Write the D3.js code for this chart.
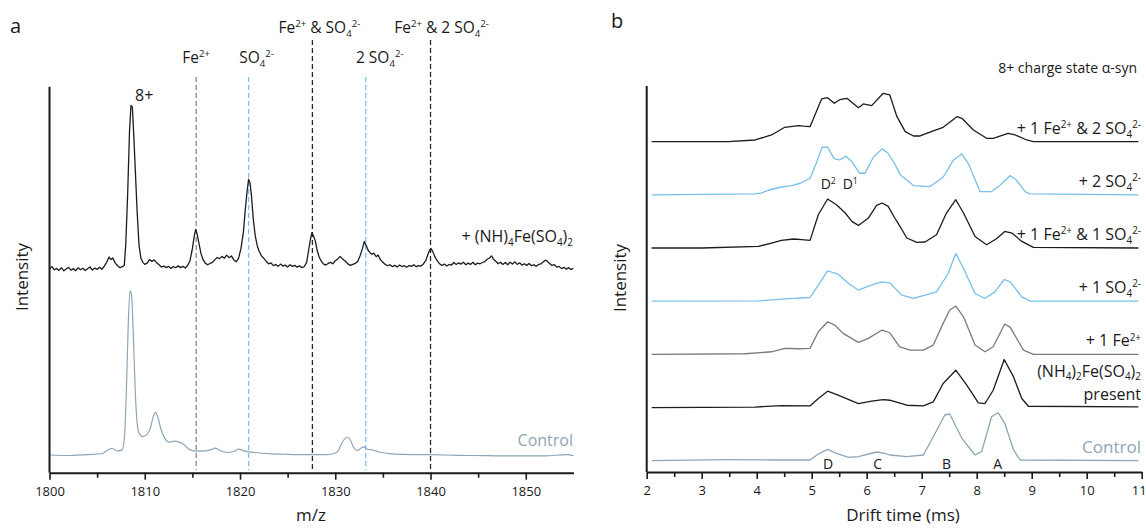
<!DOCTYPE html>
<html>
<head>
<meta charset="utf-8">
<script src="https://cdn.jsdelivr.net/npm/d3@7"></script>
<style>
    body {margin: 0; background: #fff;}
    svg text {font-family: "Open Sans", sans-serif; fill: #1a1a1a;}
</style>
</head>
<body>
<div id="Graph"></div>
<script>
// ---------- panel a : mass spectra ----------
var mzTicks = [1800, 1810, 1820, 1830, 1840, 1850];
var mzMinorTicks = [1805, 1815, 1825, 1835, 1845];

// adduct positions (m/z) and their labels
var adductMz = [1815.4, 1820.9, 1827.6, 1833.2, 1840.0];
var adductLabels = [
    [["Fe", ""], ["2+", "sup"]],
    [["SO", ""], ["4", "sub"], ["2-", "sup"]],
    [["Fe", ""], ["2+", "sup"], [" & SO", ""], ["4", "sub"], ["2-", "sup"]],
    [["2 SO", ""], ["4", "sub"], ["2-", "sup"]],
    [["Fe", ""], ["2+", "sup"], [" & 2 SO", ""], ["4", "sub"], ["2-", "sup"]]
];
var adductKinds = ["fe", "so4", "mix", "so4", "mix"];

// spectrum with (NH4)2Fe(SO4)2 added : [m/z, relative intensity]
var spectrumFe = [
    [1800, -0.5], [1800.25, 0.8], [1800.5, -1.2], [1800.75, -0.3], [1801, -1.5], [1801.25, 0.2], [1801.5, -1.8], [1801.75, -0.6],
    [1802, 0.4], [1802.25, -1.4], [1802.5, -0.4], [1802.75, -1.7], [1803, 0.1], [1803.25, -1.1], [1803.5, -0.2], [1803.75, -1.6],
    [1804, -0.5], [1804.25, 0.6], [1804.5, -1.3], [1804.75, -0.1], [1805, -0.9], [1805.25, 0.5], [1805.5, -0.8], [1805.75, 1.2],
    [1806, 3.5], [1806.25, 6.8], [1806.45, 5.2], [1806.65, 6.2], [1806.9, 3.0], [1807.15, 1.4], [1807.4, 0.2], [1807.65, 0.8],
    [1807.85, 1.5], [1808.0, 14], [1808.2, 45], [1808.4, 85], [1808.55, 101], [1808.7, 100], [1808.85, 82], [1809.0, 62],
    [1809.2, 35], [1809.4, 14], [1809.6, 6], [1809.8, 3.5], [1810.0, 2.2], [1810.25, 3.0], [1810.5, 5.2], [1810.75, 4.1],
    [1811.0, 5.0], [1811.25, 3.2], [1811.5, 2.0], [1811.75, 0.6], [1812, 1.2], [1812.25, 0.2], [1812.5, 1.0], [1812.75, -0.3],
    [1813, 0.9], [1813.25, 0.1], [1813.5, 1.3], [1813.75, 0.2], [1814, 1.0], [1814.25, 0.0], [1814.5, 1.5], [1814.75, 4.5],
    [1815.0, 12], [1815.2, 20], [1815.35, 24], [1815.5, 21], [1815.7, 15], [1815.9, 9], [1816.1, 5.5], [1816.35, 3.0],
    [1816.6, 2.0], [1816.85, 2.8], [1817.1, 3.5], [1817.35, 5.0], [1817.6, 6.5], [1817.85, 5.8], [1818.1, 7.2], [1818.35, 6.0],
    [1818.6, 8.0], [1818.85, 6.4], [1819.1, 7.5], [1819.35, 5.0], [1819.6, 3.8], [1819.85, 6.0], [1820.1, 12], [1820.35, 22],
    [1820.55, 36], [1820.75, 48], [1820.9, 55], [1821.05, 53], [1821.2, 45], [1821.4, 30], [1821.6, 20], [1821.8, 14],
    [1822.0, 10.5], [1822.25, 7.5], [1822.5, 6.0], [1822.75, 4.2], [1823.0, 2.5], [1823.25, 3.2], [1823.5, 1.4], [1823.75, 2.2],
    [1824.0, 1.0], [1824.25, 2.4], [1824.5, 1.2], [1824.75, 1.8], [1825, 0.6], [1825.25, 2.0], [1825.5, 1.0], [1825.75, 1.6],
    [1826, 0.5], [1826.25, 1.4], [1826.5, 0.2], [1826.75, 0.9], [1827.0, 3.5], [1827.2, 11], [1827.4, 18], [1827.55, 22],
    [1827.7, 20], [1827.9, 17], [1828.1, 11], [1828.3, 7], [1828.5, 4.5], [1828.75, 2.5], [1829.0, 1.8], [1829.25, 2.8],
    [1829.5, 3.5], [1829.75, 2.6], [1830.0, 4.5], [1830.25, 5.5], [1830.5, 7.2], [1830.7, 6.0], [1830.9, 5.0], [1831.1, 4.0],
    [1831.35, 2.4], [1831.6, 1.6], [1831.85, 2.2], [1832.1, 2.8], [1832.35, 4.0], [1832.6, 7.5], [1832.85, 12], [1833.05, 16.5],
    [1833.25, 14], [1833.45, 11], [1833.65, 9.5], [1833.85, 8.5], [1834.05, 9.2], [1834.3, 7.0], [1834.5, 8.0], [1834.75, 5.0],
    [1835.0, 3.5], [1835.25, 2.2], [1835.5, 1.4], [1835.75, 2.0], [1836, 0.8], [1836.25, 1.6], [1836.5, 0.6], [1836.75, 1.8],
    [1837, 0.9], [1837.25, 1.4], [1837.5, 0.4], [1837.75, 1.5], [1838, 1.0], [1838.25, 2.0], [1838.5, 0.8], [1838.75, 1.5],
    [1839, 1.2], [1839.25, 2.5], [1839.5, 4.5], [1839.7, 8.0], [1839.9, 11], [1840.05, 12], [1840.25, 10], [1840.45, 7.0],
    [1840.7, 4.5], [1840.95, 2.6], [1841.2, 1.5], [1841.45, 2.4], [1841.7, 1.2], [1841.95, 2.2], [1842.2, 1.8], [1842.45, 3.4],
    [1842.7, 2.2], [1842.95, 3.2], [1843.2, 2.4], [1843.45, 3.6], [1843.7, 2.0], [1843.95, 3.0], [1844.2, 2.2], [1844.45, 3.5],
    [1844.7, 2.0], [1844.95, 3.0], [1845.2, 2.6], [1845.45, 3.4], [1845.7, 4.0], [1845.95, 5.4], [1846.2, 6.2], [1846.4, 7.5],
    [1846.6, 5.6], [1846.85, 4.2], [1847.1, 2.6], [1847.35, 3.6], [1847.6, 2.2], [1847.85, 3.4], [1848.1, 2.0], [1848.35, 3.6],
    [1848.6, 2.4], [1848.85, 3.8], [1849.1, 2.2], [1849.35, 3.2], [1849.6, 1.8], [1849.85, 2.6], [1850.1, 1.6], [1850.35, 2.8],
    [1850.6, 1.4], [1850.85, 2.0], [1851.1, 1.0], [1851.35, 2.2], [1851.6, 2.6], [1851.85, 3.8], [1852.05, 4.8], [1852.25, 4.2],
    [1852.5, 2.8], [1852.75, 1.6], [1853, 2.0], [1853.25, 0.5], [1853.5, 1.0], [1853.75, -0.4], [1854, 0.4], [1854.25, -0.8],
    [1854.5, 0.2], [1854.75, -1.0], [1855, -0.2]
];

// control spectrum : [m/z, relative intensity]
var spectrumControl = [
    [1800, 0], [1802, -0.3], [1804, 0.3], [1805.5, 0.8], [1806.2, 3.4], [1806.6, 4.2], [1807.1, 2.5], [1807.6, 3.0],
    [1807.85, 10], [1808.05, 36], [1808.25, 78], [1808.45, 102], [1808.6, 100], [1808.8, 75], [1809.0, 40], [1809.2, 20],
    [1809.45, 13], [1809.8, 11.5], [1810.2, 12.5], [1810.6, 17], [1810.9, 24], [1811.15, 26.5], [1811.4, 23], [1811.7, 16],
    [1812.1, 10.5], [1812.6, 8], [1813.1, 8.6], [1813.6, 8], [1814.1, 6.5], [1814.6, 3.8], [1815.2, 2.6], [1816.0, 2.4],
    [1816.8, 3.0], [1817.4, 4.3], [1817.9, 2.8], [1818.6, 1.6], [1819.3, 2.2], [1819.9, 3.6], [1820.4, 2.6], [1821.0, 2.0],
    [1821.8, 1.4], [1823, 0.8], [1825, 0.4], [1827, 0.2], [1829, 0.2], [1829.8, 0.8], [1830.3, 2.6], [1830.7, 7.5],
    [1831.0, 10], [1831.3, 11.2], [1831.6, 9], [1831.95, 4.5], [1832.3, 2.8], [1832.7, 4.2], [1833.0, 5.0], [1833.4, 3.6],
    [1833.9, 3.2], [1834.5, 2.0], [1835.5, 1.0], [1837, 0.4], [1840, 0.2], [1843, -0.2], [1846, -0.4], [1849, -0.6],
    [1852, -0.5], [1854.3, 0.2], [1855, -0.4]
];

// ---------- panel b : arrival time distributions ----------
var driftTicks = [2, 3, 4, 5, 6, 7, 8, 9, 10, 11];
var driftMinorTicks = [2.5, 3.5, 4.5, 5.5, 6.5, 7.5, 8.5, 9.5, 10.5];

// traces from bottom (control) to top, [drift time ms, relative intensity]
var atdControl = [[2.09, 0], [3.48, 1], [4.39, 0.7], [4.97, 0.7], [5.12, 6.7], [5.29, 11.4], [5.45, 7.4], [5.67, 3.4], [5.85, 4],
    [6.18, 8.7], [6.33, 7.4], [6.42, 5.7], [6.73, 4], [7.03, 5.7], [7.21, 24], [7.42, 45.7], [7.51, 46.7], [7.73, 22.4],
    [7.97, 5.7], [8.09, 9], [8.27, 44], [8.39, 48], [8.51, 37.4], [8.67, 10.7], [8.79, 0.7], [10.94, 0]];
var atdPresent = [[2.09, 0], [3.97, 0.5], [4.45, 2], [4.97, 1.6], [5.12, 9], [5.29, 16.3], [5.48, 12.3], [5.85, 4], [6.09, 6.3],
    [6.30, 8], [6.42, 7.3], [6.73, 2.3], [7.03, 1.6], [7.21, 5.6], [7.39, 24], [7.62, 37.3], [7.82, 22.3], [8.03, 4.6],
    [8.15, 4], [8.30, 17.3], [8.50, 48], [8.67, 30.6], [8.82, 9], [8.94, 1.3], [10.94, 0.6]];
var atdFe = [[2.09, 0], [3.79, 0.6], [4.27, 2.6], [4.51, 6], [4.76, 5.6], [4.97, 6], [5.12, 22.6], [5.29, 32.6], [5.42, 29.3],
    [5.57, 21], [5.85, 12], [6.03, 16], [6.28, 24.3], [6.42, 21.6], [6.60, 7.6], [6.79, 4.3], [7.03, 4.3], [7.21, 9.3],
    [7.39, 31], [7.51, 44.3], [7.62, 48.3], [7.76, 37.6], [7.97, 9.3], [8.15, 2.6], [8.30, 7.6], [8.51, 30.3], [8.61, 27],
    [8.85, 4.3], [9.03, 0], [10.94, 0]];
var atdSO4 = [[2.09, 0], [4.03, 0.3], [4.51, 2.3], [4.97, 3.7], [5.12, 16], [5.29, 30.3], [5.48, 27], [5.67, 17.7], [5.85, 11],
    [6.03, 15], [6.27, 19.3], [6.42, 18.3], [6.64, 6], [6.85, 2.7], [7.27, 9.3], [7.48, 27.7], [7.62, 47.7], [7.76, 32.7],
    [7.97, 7.7], [8.15, 2.7], [8.33, 9.3], [8.50, 21.7], [8.61, 19.3], [8.82, 4.3], [8.97, 0], [10.94, 0]];
var atdFeSO4 = [[2.09, 0], [3.0, 0], [4.03, 1.6], [4.27, 5], [4.45, 7.6], [4.67, 9], [4.82, 8.3], [4.97, 7.6], [5.12, 33.3],
    [5.29, 49], [5.45, 43.3], [5.61, 35], [5.73, 26.6], [5.85, 22.6], [6.03, 30], [6.18, 42.6], [6.28, 45], [6.39, 41.6],
    [6.51, 30], [6.55, 26.6], [6.73, 10], [6.91, 5.6], [7.06, 6], [7.27, 13.3], [7.45, 35], [7.62, 48.3], [7.76, 35],
    [7.97, 11.6], [8.18, 3.3], [8.36, 9.3], [8.51, 16.6], [8.64, 15], [8.82, 6.6], [9.03, 0.6], [10.94, 0]];
var atd2SO4 = [[2.09, 0], [3.97, 1], [4.09, 2], [4.21, 4.6], [4.42, 7.6], [4.64, 9.3], [4.79, 11.6], [4.97, 16.6], [5.09, 32.6],
    [5.19, 47.6], [5.29, 47.6], [5.41, 36], [5.51, 35], [5.62, 38.6], [5.73, 33.3], [5.87, 21.6], [5.97, 21.6], [6.12, 37.6],
    [6.28, 46], [6.39, 41.6], [6.51, 31], [6.61, 20], [6.85, 9.3], [7.15, 8.3], [7.39, 17.6], [7.57, 34.3], [7.73, 41],
    [7.85, 31], [8.06, 3.3], [8.27, 3.3], [8.42, 9.3], [8.61, 19.3], [8.73, 14.3], [8.88, 3.3], [8.97, 1], [10.94, 0]];
var atdFe2SO4 = [[2.09, 0], [3.48, 0], [3.97, 1.7], [4.27, 6.7], [4.51, 14.4], [4.76, 16], [4.85, 15.5], [4.97, 15], [5.18, 42.7],
    [5.29, 44], [5.41, 38.4], [5.51, 42], [5.64, 43.4], [5.85, 34], [5.94, 37.7], [6.09, 36], [6.30, 48.4], [6.42, 46.7],
    [6.55, 25], [6.70, 10], [6.85, 5.7], [6.97, 5.7], [7.21, 10.7], [7.39, 14.4], [7.64, 25], [7.73, 23.4], [7.94, 11.7],
    [8.18, 3.4], [8.30, 3.4], [8.57, 8.4], [8.70, 6.7], [8.91, 1.7], [9.03, 0], [10.94, 0]];

var atdSeries = [atdControl, atdPresent, atdFe, atdSO4, atdFeSO4, atd2SO4, atdFe2SO4];
var atdKinds = ["control", "black", "gray", "blue", "black", "blue", "black"];
var atdLabels = [
    [[["Control", ""]]],
    [[["(NH", ""], ["4", "sub"], [")", ""], ["2", "sub"], ["Fe(SO", ""], ["4", "sub"], [")", ""], ["2", "sub"]], [["present", ""]]],
    [[["+ 1 Fe", ""], ["2+", "sup"]]],
    [[["+ 1 SO", ""], ["4", "sub"], ["2-", "sup"]]],
    [[["+ 1 Fe", ""], ["2+", "sup"], [" & 1 SO", ""], ["4", "sub"], ["2-", "sup"]]],
    [[["+ 2 SO", ""], ["4", "sub"], ["2-", "sup"]]],
    [[["+ 1 Fe", ""], ["2+", "sup"], [" & 2 SO", ""], ["4", "sub"], ["2-", "sup"]]]
];
// conformer families under the control trace
var conformerNames = ["D", "C", "B", "A"];
var conformerTimes = [5.3, 6.2, 7.45, 8.38];
var subConformers = [[["D", ""], ["2", "sup"]], [["D", ""], ["1", "sup"]]];
var subConformerTimes = [5.3, 5.7];

var colors = {
    black: "#1c1c1c",
    blue: "#79bfea",
    gray: "#7b7b7b",
    control: "#8ea5b6",
    fe: "#8a8a8a",
    so4: "#79bfea",
    mix: "#2a2a2a"
};

// write a label made of normal / sub / sup pieces into a text element
function richText(sel, parts, size) {
    var shift = 0;
    parts.forEach(function (p) {
        var target = p[1] === "sup" ? -0.36 * size : (p[1] === "sub" ? 0.24 * size : 0);
        sel.append("tspan")
            .attr("dy", target - shift)
            .style("font-size", (p[1] ? size * 0.62 : size) + "px")
            .text(p[0]);
        shift = target;
    });
    return sel;
}

function drawAxis(g, scale, major, minor, y) {
    g.append("g")
        .attr("transform", "translate(0," + y + ")")
        .call(d3.axisBottom(scale).tickValues(minor).tickSize(5).tickSizeOuter(0).tickFormat(""))
        .call(function (a) {
            a.select(".domain").remove();
            a.selectAll("line").attr("stroke", "#1a1a1a").attr("stroke-width", 1.6);
        });
    g.append("g")
        .attr("transform", "translate(0," + y + ")")
        .call(d3.axisBottom(scale).tickValues(major).tickSize(7).tickSizeOuter(0).tickPadding(7).tickFormat(d3.format("d")))
        .call(function (a) {
            a.select(".domain").attr("stroke", "#1a1a1a").attr("stroke-width", 2);
            a.selectAll("line").attr("stroke", "#1a1a1a").attr("stroke-width", 1.6);
            a.selectAll("text").attr("font-family", "Open Sans").style("font-size", "13px").attr("fill", "#1a1a1a");
        });
}

var svg = d3.select("#Graph").append("svg")
    .attr("width", 1146)
    .attr("height", 528);

function drawPanelA() {
    var axisY = 472.7, topY = 86.7;
    var xA = d3.scaleLinear().domain([1800, 1855]).range([49.5, 573.4]);
    var yA = d3.scaleLinear().domain([0, 240]).range([axisY, topY]);
    var offsets = [11, 127.3];   // control, Fe added

    var g = svg.append("g");

    //panel letter
    g.append("text").attr("x", 10).attr("y", 33).style("font-size", "20px").text("a");

    //dashed adduct lines and labels
    adductMz.forEach(function (mz, i) {
        var upper = adductKinds[i] === "mix";
        var lx = xA(mz);
        g.append("line")
            .attr("x1", lx).attr("x2", lx)
            .attr("y1", upper ? 40 : 77).attr("y2", 470)
            .attr("stroke", colors[adductKinds[i]])
            .attr("stroke-width", 1.3)
            .attr("stroke-dasharray", "5,3");
        var shiftX = [0, 8, 7, 14, 11][i];
        richText(g.append("text")
            .attr("x", lx + shiftX)
            .attr("y", upper ? 33 : 63)
            .attr("text-anchor", "middle"), adductLabels[i], 15.5);
    });

    var line = d3.line().x(function (d) { return xA(d[0]); });

    //control spectrum
    g.append("path")
        .datum(spectrumControl)
        .attr("fill", "none")
        .attr("stroke", colors.control)
        .attr("stroke-width", 1.2)
        .attr("d", line.curve(d3.curveMonotoneX).y(function (d) { return yA(d[1] + offsets[0]); }));

    //spectrum with (NH4)2Fe(SO4)2
    g.append("path")
        .datum(spectrumFe)
        .attr("fill", "none")
        .attr("stroke", colors.black)
        .attr("stroke-width", 1.3)
        .attr("stroke-linejoin", "round")
        .attr("d", line.curve(d3.curveLinear).y(function (d) { return yA(d[1] + offsets[1]); }));

    //labels on spectra
    g.append("text").attr("x", 135).attr("y", 101).style("font-size", "16px").text("8+");
    richText(g.append("text").attr("x", 573).attr("y", 242).attr("text-anchor", "end"),
        [["+ (NH)", ""], ["4", "sub"], ["Fe(SO", ""], ["4", "sub"], [")", ""], ["2", "sub"]], 16);
    g.append("text").attr("x", 573).attr("y", 446).attr("text-anchor", "end")
        .style("font-size", "16px").style("fill", colors.control).text("Control");

    //axes
    g.append("line").attr("x1", xA(1800)).attr("x2", xA(1800)).attr("y1", topY).attr("y2", axisY)
        .attr("stroke", "#1a1a1a").attr("stroke-width", 2);
    drawAxis(g, xA, mzTicks, mzMinorTicks, axisY);

    g.append("text").attr("x", 311).attr("y", 521).attr("text-anchor", "middle")
        .style("font-size", "17px").text("m/z");
    g.append("text").attr("transform", "translate(28,277) rotate(-90)").attr("text-anchor", "middle")
        .style("font-size", "17px").text("Intensity");
}

function drawPanelB() {
    var axisY = 472, topY = 86;
    var xB = d3.scaleLinear().domain([2, 11]).range([646.7, 1141.7]);
    var yB = d3.scaleLinear().domain([0, 386]).range([axisY, topY]);
    var stackStart = 11.3, stackStep = 53.17;

    var g = svg.append("g");
    g.append("text").attr("x", 611).attr("y", 28).style("font-size", "20px").text("b");
    g.append("text").attr("x", 1137).attr("y", 73).attr("text-anchor", "end")
        .style("font-size", "14px").text("8+ charge state \u03b1-syn");

    var line = d3.line()
        .x(function (d) { return xB(d[0]); })
        .curve(d3.curveLinear);

    atdSeries.forEach(function (series, i) {
        var base = stackStart + i * stackStep;
        g.append("path")
            .datum(series)
            .attr("fill", "none")
            .attr("stroke", colors[atdKinds[i]])
            .attr("stroke-width", 1.3)
            .attr("stroke-linejoin", "round")
            .attr("d", line.y(function (d) { return yB(d[1] + base); }));

        //trace label, right aligned above the trace end
        var lines = atdLabels[i];
        lines.forEach(function (parts, j) {
            var t = g.append("text")
                .attr("x", 1141)
                .attr("y", yB(base) - 8 - (lines.length - 1 - j) * 23)
                .attr("text-anchor", "end");
            if (atdKinds[i] === "control") t.style("fill", colors.control);
            richText(t, parts, atdKinds[i] === "control" ? 17 : 16);
        });
    });

    //conformer letters
    conformerNames.forEach(function (n, i) {
        g.append("text").attr("x", xB(conformerTimes[i])).attr("y", 469)
            .attr("text-anchor", "middle").style("font-size", "14px").text(n);
    });
    subConformers.forEach(function (parts, i) {
        richText(g.append("text").attr("x", xB(subConformerTimes[i])).attr("y", 189)
            .attr("text-anchor", "middle"), parts, 14);
    });

    //axes
    g.append("line").attr("x1", xB(2)).attr("x2", xB(2)).attr("y1", topY).attr("y2", axisY)
        .attr("stroke", "#1a1a1a").attr("stroke-width", 2);
    drawAxis(g, xB, driftTicks, driftMinorTicks, axisY);
    //keep the last tick label inside the picture
    g.selectAll(".tick text").filter(function (d) { return d === 11; }).attr("dx", -3);

    g.append("text").attr("x", 903).attr("y", 521).attr("text-anchor", "middle")
        .style("font-size", "17px").text("Drift time (ms)");
    g.append("text").attr("transform", "translate(626,278) rotate(-90)").attr("text-anchor", "middle")
        .style("font-size", "17px").text("Intensity");
}

drawPanelA();
drawPanelB();
</script>
</body>
</html>
